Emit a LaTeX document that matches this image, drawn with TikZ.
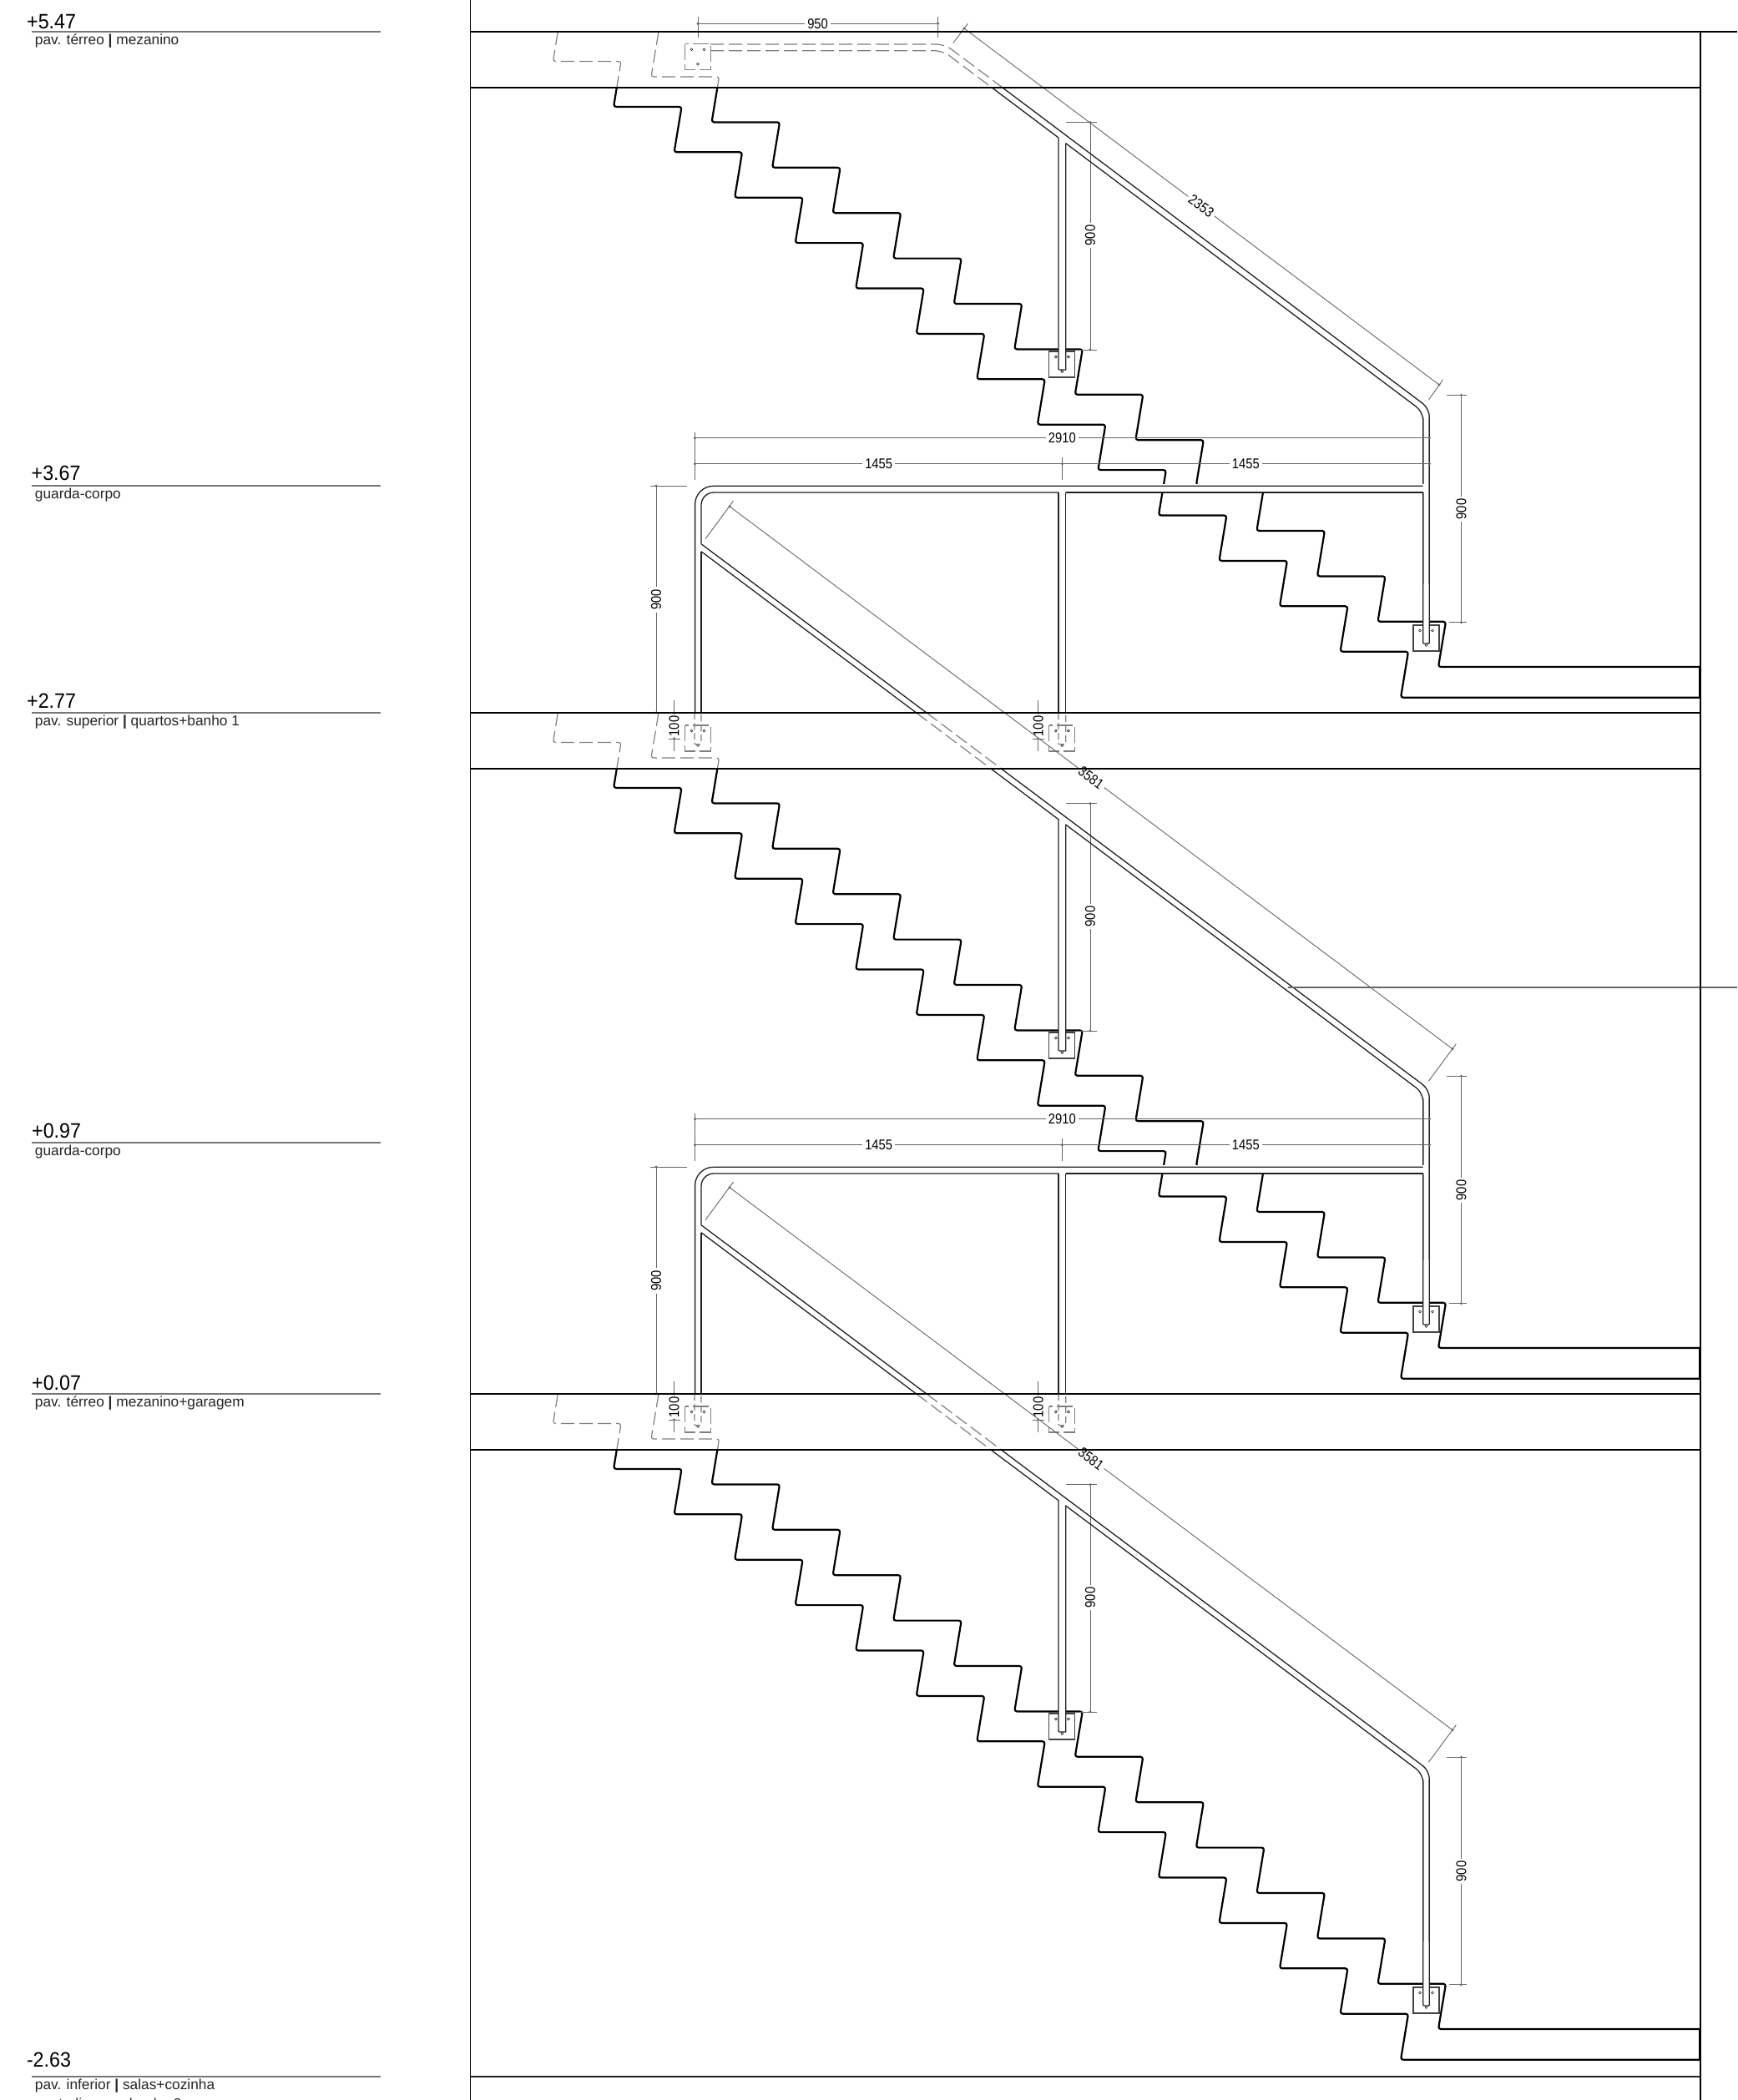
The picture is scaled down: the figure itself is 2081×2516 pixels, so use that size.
\documentclass[tikz,border=0pt]{standalone}
\usepackage{fontspec}
\setmainfont{Liberation Sans}
\newfontfamily\lvfont[FakeStretch=0.93]{Liberation Sans}
\newfontfamily\dimfont[FakeStretch=0.87]{Liberation Sans}
\definecolor{dimc}{HTML}{666666}
\definecolor{dashc}{HTML}{808080}
\definecolor{railc}{HTML}{222222}
\definecolor{levelc}{HTML}{777777}
\tikzset{
  stringer/.style={black,line width=2.2pt,rounded corners=3pt},
  rail/.style={railc,line width=1.3pt},
  dashrail/.style={dashc,line width=1.2pt,dash pattern=on 16pt off 6pt},
  dashplate/.style={dashc,line width=1.1pt,dash pattern=on 19pt off 5pt},
  plateline/.style={railc!85!white,line width=1.1pt},
  slab/.style={black,line width=2pt},
  dimline/.style={dimc,line width=0.9pt},
  dimtext/.style={font=\dimfont\fontsize{17}{17}\selectfont,text=black,inner sep=3pt},
  lvtext/.style={font=\lvfont\fontsize{25}{25}\selectfont,text=black,anchor=base west,inner sep=0pt},
  subtext/.style={font=\fontsize{17.3}{17.3}\selectfont,text=black!85,anchor=base west,inner sep=0pt},
}
\newcommand{\stairpaths}[1]{%
  \draw[#1] (668.3,38) \foreach \k in {0,...,13} { -- ({662.5+72.54*\k},{73.5+54.4*\k}) -- ({744+72.54*\k},{73.5+54.4*\k}) } -- (1678,835.7) -- (2036.7,835.7);
  \draw[#1] (789,38) \foreach \k in {0,...,12} { -- ({780+72.54*\k},{92+54.4*\k}) -- ({861.5+72.54*\k},{92+54.4*\k}) } -- (1723,799) -- (2036.7,799);
}
\newcommand{\flight}[1]{%
  \begin{scope}[shift={(0,#1)}]
    \begin{scope}
      \clip (600,38) rectangle (2037,104.5);
      \stairpaths{dashrail,rounded corners=3pt}
    \end{scope}
    \begin{scope}
      \clip (600,104.5) rectangle (2037,860);
      \stairpaths{stringer}
    \end{scope}
    \draw[slab,line width=2.8pt] (2036.7,799) -- (2036.7,835.7);
  \end{scope}
}
\newcommand{\plate}[3]{%
  \draw[#3] ({#1-15.5},#2) rectangle ({#1+15.5},{#2+31});
  \foreach \bx/\by in {-7.5/6.5,7.5/6.5,0/24}
    \draw[railc,line width=0.6pt] ({#1+\bx},{#2+\by}) circle (1.5);
}
\newcommand{\dimdot}[2]{\fill[dimc] (#1,#2) circle (1.7);}
\newcommand{\posts}[1]{%
  \begin{scope}[shift={(0,#1)}]
    \fill[white] (1268,165) rectangle (1276.7,443);
    \fill[white] (1704.7,495) rectangle (1712.3,771);
    \draw[rail] (1268,165) -- (1268,441) to[rounded corners=1pt] (1268,443) -- (1276.7,443) -- (1276.7,171.7);
    \draw[rail,rounded corners=1pt] (1704.7,500) -- (1704.7,771) -- (1712.3,771) -- (1712.3,500);
    \draw[dimline] (1277,146.7) -- (1314,146.7) (1290,419) -- (1314,419) (1306,146.7) -- (1306,419);
    \dimdot{1306}{146.7}\dimdot{1306}{419}
    \node[dimtext,fill=white,rotate=90] (dpost#1) at (1306,282) {900};
    \draw[dimline] (1733,473.3) -- (1757,473.3) (1736,745.7) -- (1757,745.7) (1750.4,473.3) -- (1750.4,745.7);
    \dimdot{1750.4}{473.3}\dimdot{1750.4}{745.7}
    \node[dimtext,fill=white,rotate=90] (dright#1) at (1750.4,610) {900};
  \end{scope}
}
\newcommand{\longrail}[1]{%
  \begin{scope}[shift={(0,#1)}]
    \draw[rail] (840,651.7) -- (1110,854);
    \draw[dashrail] (1110,854) -- (1199.4,921);
    \draw[rail,rounded corners=10pt] (1199.4,921) -- (1712.3,1305.4) -- (1712.3,1510);
    \draw[rail] (840,660.7) -- (1097.7,854);
    \draw[dashrail] (1097.7,854) -- (1187,921);
    \draw[rail] (1187,921) -- (1268,981.7) (1276.7,988) -- (1500,1155.5);
    \draw[rail,rounded corners=10pt] (1500,1155.5) -- (1704.7,1309.4) -- (1704.7,1510);
  \end{scope}
}
\newcommand{\guardframe}[1]{%
  \begin{scope}[shift={(0,#1)}]
    \fill[white] (841,580) rectangle (1705.5,589.5);
    \draw[rail,rounded corners=22pt] (832.6,854) -- (832.6,582.3) -- (1704.7,582.3);
    \draw[rail,rounded corners=15pt] (840,651.7) -- (840,590) -- (1268,590);
    \draw[rail] (840,660.7) -- (840,854);
    \draw[rail] (1276.7,590) -- (1704.7,590);
    \draw[rail] (1268,590) -- (1268,854) (1276.7,590) -- (1276.7,854);
    \plate{836}{869}{dashplate}
    \plate{1272.4}{869}{dashplate}
    \draw[dashrail,dash pattern=on 8pt off 4pt,rounded corners=1pt] (832,854) -- (832,891.7) -- (840,891.7) -- (840,854);
    \draw[dashrail,dash pattern=on 8pt off 4pt,rounded corners=1pt] (1268,854) -- (1268,891.7) -- (1276.7,891.7) -- (1276.7,854);
    \draw[dimline] (832.6,518) -- (832.6,575) (832.6,524.7) -- (1712.5,524.7) (832.6,555.7) -- (1712.5,555.7) (1272.4,547.7) -- (1272.4,575);
    \dimdot{832.6}{524.7}\dimdot{832.6}{555.7}\dimdot{1712.5}{524.7}\dimdot{1712.5}{555.7}\dimdot{1272.4}{555.7}
    \node[dimtext,fill=white] (dall#1) at (1272.4,525) {2910};
    \node[dimtext,fill=white] (dla#1) at (1052.7,556) {1455};
    \node[dimtext,fill=white] (dlb#1) at (1492.4,556) {1455};
    \draw[dimline] (779,582) -- (823,582) (779,854) -- (790,854) (786,582) -- (786,854);
    \dimdot{786}{582}\dimdot{786}{854}
    \node[dimtext,fill=white,rotate=90] (dleft#1) at (786,718.3) {900};
    \foreach \hx/\hn in {807.6/a,1243.7/b}{
      \draw[dimline] (\hx,839) -- (\hx,856) (\hx,884) -- (\hx,900) ({\hx-7},854) -- ({\hx+7},854) ({\hx-7},885) -- ({\hx+7},885);
      \dimdot{\hx}{854}\dimdot{\hx}{885}
      \node[dimtext,rotate=90] (dh\hn#1) at (\hx,870) {100};
    }
    \draw[dimline] (874,606.7) -- (1740,1256.7) (878.6,600) -- (845,645.7) (1744.3,1250.7) -- (1711.3,1295.3);
    \dimdot{874}{606.7}\dimdot{1740}{1256.7}
    \node[dimtext,fill=white,rotate=-36.9] (dslope#1) at (1307,931.8) {3581};
  \end{scope}
}
\begin{document}
\begin{tikzpicture}[x=1pt,y=-1pt]
\useasboundingbox (0,0) rectangle (2081,2516);
\clip (0,0) rectangle (2081,2516);
\fill[white] (0,0) rectangle (2081,2516);
\foreach \ly in {38,582,854,1369,1670,2488}
  \draw[levelc,line width=1.5pt] (38,\ly) -- (456,\ly);
\node[lvtext] (l1) at (32,34.5) {+5.47};
\node[subtext] (s1) at (41.7,53) {pav. térreo \textbf{|} mezanino};
\node[lvtext] (l2) at (37.5,575) {+3.67};
\node[subtext] (s2) at (41.7,597) {guarda-corpo};
\node[lvtext] (l3) at (32,848) {+2.77};
\node[subtext] (s3) at (41.7,869) {pav. superior \textbf{|} quartos+banho 1};
\node[lvtext] (l4) at (38,1363) {+0.97};
\node[subtext] (s4) at (41.7,1384) {guarda-corpo};
\node[lvtext] (l5) at (38,1665) {+0.07};
\node[subtext] (s5) at (41.7,1685) {pav. térreo \textbf{|} mezanino+garagem};
\node[lvtext] (l6) at (31.8,2476) {-2.63};
\node[subtext] (s6) at (41.7,2503) {pav. inferior \textbf{|} salas+cozinha};
\node[subtext] (s7) at (41.7,2526) {+estudio+s.s.+banho 2};
\foreach \d in {0,816,1632}{
  \plate{1272.4}{421+\d}{plateline}
  \plate{1708.5}{749+\d}{plateline}
}
\plate{836}{52.7}{dashplate}
\flight{0}\flight{816}\flight{1632}
\posts{0}\posts{816}\posts{1632}
\draw[dashrail,rounded corners=10pt] (851,53) -- (1131.6,53) -- (1200.3,104.5);
\draw[dashrail,rounded corners=10pt] (851,60.7) -- (1129.2,60.7) -- (1187.6,104.5);
\draw[rail,rounded corners=10pt] (1200.3,104.5) -- (1712.3,489.4) -- (1712.3,700);
\draw[rail] (1187.6,104.5) -- (1268,165) (1276.7,171.7) -- (1500,339.5);
\draw[rail,rounded corners=10pt] (1500,339.5) -- (1704.7,493.4) -- (1704.7,700);
\longrail{0}\longrail{816}
\guardframe{0}\guardframe{816}
\draw[dimline] (836,20) -- (836,45) (1123.6,20) -- (1123.6,45) (836,28.3) -- (1123.6,28.3);
\dimdot{836}{28.3}\dimdot{1123.6}{28.3}
\node[dimtext,fill=white] (d950) at (979.6,29) {950};
\draw[dimline] (1155,34) -- (1724,461) (1159.3,28.3) -- (1141.7,51.7) (1728.6,455) -- (1711.6,478.7);
\dimdot{1155}{34}\dimdot{1724}{461}
\node[dimtext,fill=white,rotate=-36.9] (d2353) at (1439,247) {2353};
\draw[dimc,line width=1.8pt] (1542.7,1183.3) -- (2081,1183.3);
\draw[slab] (563.5,38) -- (2081,38);
\draw[slab] (563.5,105) -- (2036.7,105);
\draw[slab] (563.5,854) -- (2036.7,854);
\draw[slab] (563.5,921) -- (2036.7,921);
\draw[slab] (563.5,1670) -- (2036.7,1670);
\draw[slab] (563.5,1737) -- (2036.7,1737);
\draw[railc,line width=1.6pt] (563.5,2488) -- (2036.7,2488);
\draw[black,line width=1.3pt] (563.5,0) -- (563.5,2516);
\draw[black,line width=1.6pt] (2036.7,38) -- (2036.7,2516);
\end{tikzpicture}
\end{document}
